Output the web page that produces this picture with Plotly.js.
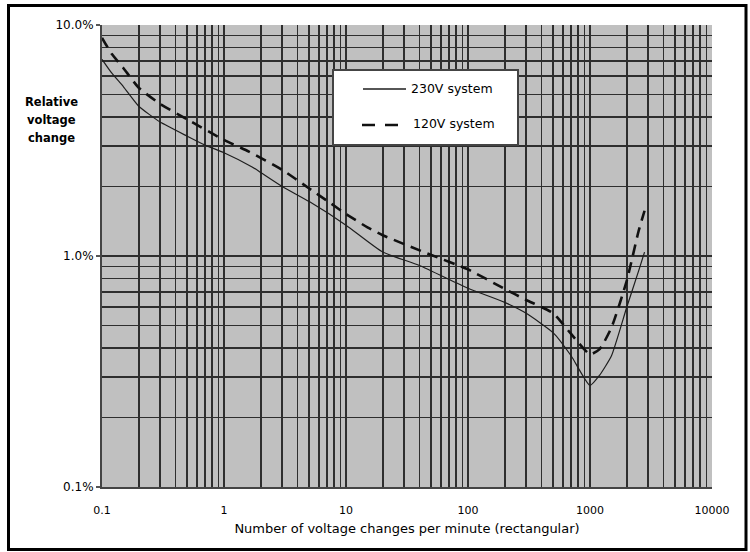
<!DOCTYPE html>
<html><head><meta charset="utf-8">
<script src="https://cdn.plot.ly/plotly-3.0.1.min.js"></script>
<style>html,body{margin:0;padding:0;background:#fff}#chart{width:750px;height:552px}</style>
</head><body><div id="chart"></div>
<script>
// ---- data ----
const seriesNames = ['230V system', '120V system'];
const x230 = [0.1, 0.12, 0.15, 0.2, 0.3, 0.5, 0.7, 1, 1.7, 2, 3, 5, 10, 20, 40, 100, 200, 300, 500, 700, 1000, 1200, 1500, 2000, 2500, 2800];
const y230 = [7.1, 6.2, 5.4, 4.45, 3.8, 3.3, 3.02, 2.8, 2.43, 2.3, 2.0, 1.72, 1.36, 1.04, 0.91, 0.725, 0.63, 0.565, 0.465, 0.37, 0.275, 0.305, 0.37, 0.6, 0.86, 1.04];
const x120 = [0.1, 0.12, 0.15, 0.2, 0.3, 0.5, 1, 1.6, 3, 5, 7.5, 10, 15, 20, 50, 100, 200, 300, 500, 700, 1000, 1200, 1500, 2000, 2500, 2800];
const y120 = [8.8, 7.5, 6.5, 5.35, 4.55, 3.9, 3.18, 2.83, 2.36, 1.96, 1.69, 1.52, 1.33, 1.23, 1.01, 0.875, 0.72, 0.645, 0.565, 0.46, 0.375, 0.395, 0.49, 0.78, 1.28, 1.57];
const xTickVals = [0.1, 1, 10, 100, 1000, 10000];
const xTickText = ['0.1', '1', '10', '100', '1000', '10000'];
const yTickVals = [0.1, 1, 10];
const yTickText = ['0.1%', '1.0%', '10.0%'];
const yTitleLines = ['Relative', 'voltage', 'change'];
const xTitleText = 'Number of voltage changes per minute (rectangular)';

// ---- layout helpers (pixel -> paper) ----
const W = 750, H = 552;
const M = {l: 102, r: 38, t: 25, b: 65};
const pw = W - M.l - M.r, ph = H - M.t - M.b;
const px = v => (v - M.l) / pw;
const py = v => (H - M.b - v) / ph;

const FONT = 'DejaVu Sans, Arial, sans-serif';
const GRID = '#2e2e2e';

const traces = [
  {x: x230, y: y230, name: seriesNames[0], type: 'scatter', mode: 'lines',
   line: {color: '#1e1e1e', width: 1.2, shape: 'spline', smoothing: 0.5}, showlegend: false, hoverinfo: 'skip'},
  {x: x120, y: y120, name: seriesNames[1], type: 'scatter', mode: 'lines',
   line: {color: '#111111', width: 2.6, dash: '11px,7px', shape: 'spline', smoothing: 0.5}, showlegend: false, hoverinfo: 'skip'}
];

const layout = {
  width: W, height: H,
  margin: M,
  paper_bgcolor: '#ffffff',
  plot_bgcolor: '#c0c0c0',
  showlegend: false,
  font: {family: FONT, color: '#000', size: 11},
  xaxis: {
    type: 'log', range: [-1, 4],
    tickmode: 'array', tickvals: xTickVals, ticktext: xTickText,
    ticks: '', ticklabelstandoff: 12,
    tickfont: {family: FONT, size: 11, color: '#000'},
    showgrid: true, gridcolor: GRID, gridwidth: 1.7,
    minor: {dtick: 'D1', showgrid: true, gridcolor: GRID, gridwidth: 1.7, ticks: ''},
    showline: true, linecolor: '#444', linewidth: 2,
    zeroline: false, automargin: false,
    title: {text: xTitleText, font: {family: FONT, size: 13, color: '#000'}, standoff: 8}
  },
  yaxis: {
    type: 'log', range: [-1, 1],
    tickmode: 'array', tickvals: yTickVals, ticktext: yTickText,
    ticks: 'outside', ticklen: 4, tickcolor: '#555', tickwidth: 1.5,
    tickfont: {family: FONT, size: 12, color: '#000'},
    showgrid: true, gridcolor: GRID, gridwidth: 1.7,
    minor: {dtick: 'D1', showgrid: true, gridcolor: GRID, gridwidth: 1.7, ticks: ''},
    showline: true, linecolor: '#444', linewidth: 2,
    zeroline: false, automargin: false
  },
  shapes: [
    // legend box
    {type: 'rect', xref: 'paper', yref: 'paper', x0: px(333), x1: px(518), y0: py(145), y1: py(70),
     fillcolor: '#ffffff', line: {color: '#444', width: 2}, layer: 'above'},
    {type: 'line', xref: 'paper', yref: 'paper', x0: px(363), x1: px(406), y0: py(89), y1: py(89),
     line: {color: '#1e1e1e', width: 1.3}},
    {type: 'line', xref: 'paper', yref: 'paper', x0: px(362), x1: px(403), y0: py(125), y1: py(125),
     line: {color: '#111', width: 2.4, dash: '13px,10px'}},
    // outer frame
    {type: 'rect', xref: 'paper', yref: 'paper', x0: px(8.5), x1: px(746), y0: py(549.5), y1: py(5.5),
     line: {color: '#000', width: 3}, fillcolor: 'rgba(0,0,0,0)', layer: 'above'}
  ],
  annotations: [
    {xref: 'paper', yref: 'paper', x: px(408.5), y: py(88), xanchor: 'left', yanchor: 'middle', showarrow: false,
     text: seriesNames[0], font: {family: FONT, size: 12.5, color: '#000'}},
    {xref: 'paper', yref: 'paper', x: px(411), y: py(123), xanchor: 'left', yanchor: 'middle', showarrow: false,
     text: seriesNames[1], font: {family: FONT, size: 12.5, color: '#000'}}
  ].concat(yTitleLines.map((t, i) => ({
     xref: 'paper', yref: 'paper', x: px(51), y: py(102 + 18 * i), xanchor: 'center', yanchor: 'middle',
     showarrow: false, text: '<b>' + t + '</b>', font: {family: FONT, size: 11.5, color: '#000'}
  })))
};

Plotly.newPlot('chart', traces, layout, {displayModeBar: false, staticPlot: true});
</script>
</body></html>
